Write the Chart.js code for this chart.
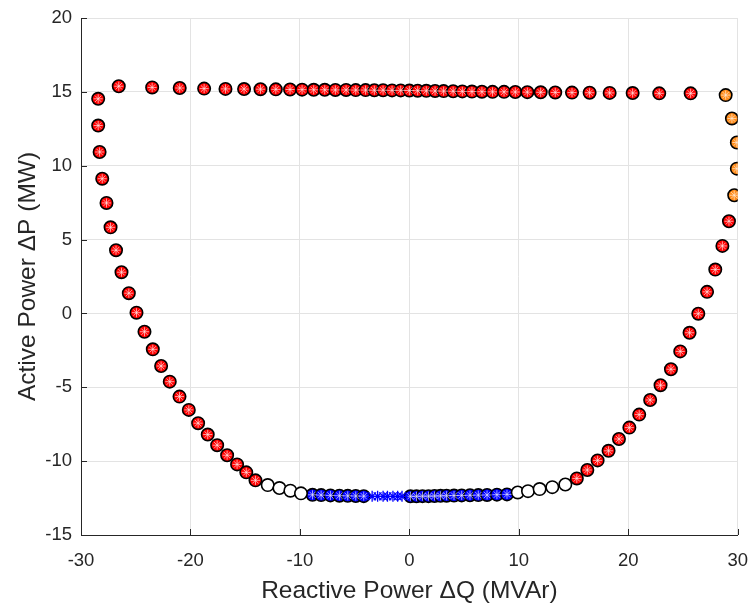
<!DOCTYPE html>
<html>
<head>
<meta charset="utf-8">
<script src="https://cdn.jsdelivr.net/npm/chart.js@4/dist/chart.umd.min.js"></script>
<style>
  html, body { margin: 0; padding: 0; background: #fff; }
  #wrap { width: 750px; height: 608px; }
</style>
</head>
<body>
<div id="wrap"><canvas id="chart" width="750" height="608"></canvas></div>
<script>
// top edge of the capability curve (red)
var topQ = [-26.55, -23.5, -20.98, -18.75, -16.8, -15.1, -13.6, -12.2, -10.9, -9.8, -8.74, -7.73, -6.76, -5.78, -4.9, -4.0, -3.2, -2.4, -1.58, -0.79,
            0.0, 0.76, 1.55, 2.35, 3.13, 4.0, 4.84, 5.72, 6.63, 7.6, 8.65, 9.68, 10.78, 12.0, 13.33, 14.86, 16.47, 18.3, 20.4, 22.83, 25.7];
var topP = [15.38, 15.3, 15.26, 15.22, 15.2, 15.19, 15.18, 15.17, 15.16, 15.15, 15.14, 15.14, 15.13, 15.13, 15.12, 15.12, 15.11, 15.11, 15.1, 15.1,
            15.09, 15.08, 15.07, 15.06, 15.05, 15.04, 15.03, 15.02, 15.01, 15.0, 15.0, 14.99, 14.98, 14.97, 14.96, 14.95, 14.94, 14.93, 14.92, 14.9, 14.9];

// left side (red)
var leftQ = [-28.43, -28.43, -28.3, -28.06, -27.67, -27.3, -26.8, -26.3, -25.63, -24.93, -24.2, -23.44, -22.68, -21.89, -21.0, -20.15, -19.3, -18.42, -17.56, -16.65, -15.74, -14.9, -14.06];
var leftP = [14.53, 12.72, 10.93, 9.12, 7.48, 5.83, 4.28, 2.79, 1.37, 0.05, -1.24, -2.43, -3.56, -4.62, -5.63, -6.53, -7.43, -8.2, -8.92, -9.6, -10.22, -10.76, -11.3];

// right side (red)
var rightQ = [15.3, 16.26, 17.2, 18.2, 19.15, 20.1, 21.0, 22.0, 22.95, 23.9, 24.75, 25.6, 26.4, 27.2, 27.95, 28.6, 29.2];
var rightP = [-11.17, -10.6, -9.95, -9.3, -8.5, -7.73, -6.85, -5.86, -4.86, -3.78, -2.57, -1.31, -0.02, 1.46, 2.97, 4.57, 6.24];

// right top corner (orange)
var orangeQ = [29.68, 29.92, 29.92, 29.47, 28.9];
var orangeP = [8.0, 9.8, 11.57, 13.2, 14.78];

// open circles at the bottom
var whiteQ = [-12.94, -11.87, -10.87, -9.9, 9.9, 10.84, 11.9, 13.06, 14.25];
var whiteP = [-11.62, -11.82, -12.0, -12.18, -12.12, -12.03, -11.89, -11.76, -11.58];

// bottom (blue circles)
var blueQ = [-8.85, -8.06, -7.21, -6.39, -5.63, -4.9, -4.17, 0.1, 0.65, 1.2, 1.75, 2.3, 2.85, 3.4, 4.08, 4.78, 5.54, 6.3, 7.1, 8.0, 8.92];
var blueP = [-12.28, -12.3, -12.32, -12.34, -12.35, -12.36, -12.37, -12.38, -12.38, -12.37, -12.37, -12.36, -12.35, -12.34, -12.33, -12.32, -12.31, -12.3, -12.29, -12.27, -12.25];

// bottom (blue asterisks only)
var starQ = [-3.4, -2.9, -2.4, -2.0, -1.5, -1.07, -0.67];
var starP = [-12.38, -12.38, -12.38, -12.38, -12.38, -12.38, -12.38];

var xTicks = [-30, -20, -10, 0, 10, 20, 30];
var yTicks = [-15, -10, -5, 0, 5, 10, 15, 20];

function pts(q, p) {
	return q.map(function(v, i) { return { x: v, y: p[i] }; });
}

var redPts = pts(topQ, topP).concat(pts(leftQ, leftP), pts(rightQ, rightP));
var orangePts = pts(orangeQ, orangeP);
var whitePts = pts(whiteQ, whiteP);
var bluePts = pts(blueQ, blueP);
var starPts = pts(starQ, starP);

var axisColor = '#262626';
var font = "'Liberation Sans', Arial, Helvetica, sans-serif";

function circles(data, fill, order) {
	return {
		data: data,
		pointStyle: 'circle',
		pointRadius: 6.2,
		pointBackgroundColor: fill,
		pointBorderColor: '#000',
		pointBorderWidth: 1.6,
		showLine: false,
		order: order
	};
}

function stars(data, color, radius, width, order) {
	return {
		data: data,
		pointStyle: 'star',
		pointRadius: radius,
		pointBackgroundColor: color,
		pointBorderColor: color,
		pointBorderWidth: width,
		showLine: false,
		order: order
	};
}

// MATLAB style ticks pointing inwards
var inwardTicks = {
	id: 'inwardTicks',
	beforeDatasetsDraw: function(chart) {
		var ctx = chart.ctx;
		var area = chart.chartArea;
		var xs = chart.scales.x, ys = chart.scales.y;
		ctx.save();
		ctx.strokeStyle = axisColor;
		ctx.lineWidth = 1;
		ctx.beginPath();
		xTicks.forEach(function(v) {
			var px = Math.round(xs.getPixelForValue(v)) + 0.5;
			ctx.moveTo(px, area.bottom);
			ctx.lineTo(px, area.bottom - 6);
		});
		yTicks.forEach(function(v) {
			var py = Math.round(ys.getPixelForValue(v)) + 0.5;
			ctx.moveTo(area.left, py);
			ctx.lineTo(area.left + 6, py);
		});
		ctx.stroke();
		ctx.restore();
	}
};

new Chart(document.getElementById('chart').getContext('2d'), {
	type: 'scatter',
	data: {
		datasets: [
			circles(redPts, '#ff0000', 10),
			stars(redPts, 'rgba(255,225,225,0.7)', 4.5, 1, 5),
			circles(orangePts, '#ff8c1a', 10),
			stars(orangePts, 'rgba(255,235,215,0.7)', 4.5, 1, 5),
			circles(whitePts, '#ffffff', 10),
			circles(bluePts, '#0000ff', 10),
			stars(bluePts, 'rgba(225,225,255,0.7)', 4.5, 1, 5),
			stars(starPts, '#0000ff', 5.5, 1.3, 1)
		]
	},
	options: {
		responsive: false,
		animation: false,
		events: [],
		layout: { padding: { top: 18, right: 12, bottom: 0, left: 14 } },
		plugins: {
			legend: { display: false },
			tooltip: { enabled: false }
		},
		scales: {
			x: {
				type: 'linear',
				min: -30,
				max: 30,
				afterBuildTicks: function(scale) {
					scale.ticks = xTicks.map(function(v) { return { value: v }; });
				},
				afterFit: function(scale) { scale.height = 73; },
				grid: { color: '#e3e3e3', lineWidth: 1, drawTicks: true, tickLength: 13, tickColor: 'rgba(0,0,0,0)' },
				border: { display: true, color: axisColor, width: 1 },
				ticks: {
					color: axisColor,
					padding: 2,
					maxRotation: 0,
					font: { family: font, size: 18.5 }
				},
				title: {
					display: true,
					text: 'Reactive Power \u0394Q (MVAr)',
					color: axisColor,
					padding: { top: 0, bottom: 2 },
					font: { family: font, size: 24.5 }
				}
			},
			y: {
				type: 'linear',
				min: -15,
				max: 20,
				afterBuildTicks: function(scale) {
					scale.ticks = yTicks.map(function(v) { return { value: v }; });
				},
				afterFit: function(scale) { scale.width = 67; },
				grid: { color: '#e3e3e3', lineWidth: 1, drawTicks: true, tickLength: 7, tickColor: 'rgba(0,0,0,0)' },
				border: { display: true, color: axisColor, width: 1 },
				ticks: {
					color: axisColor,
					padding: 2,
					font: { family: font, size: 18.5 }
				},
				title: {
					display: true,
					text: 'Active Power \u0394P (MW)',
					color: axisColor,
					padding: { top: 0, bottom: 4 },
					font: { family: font, size: 24.5 }
				}
			}
		}
	},
	plugins: [inwardTicks]
});
</script>
</body>
</html>
